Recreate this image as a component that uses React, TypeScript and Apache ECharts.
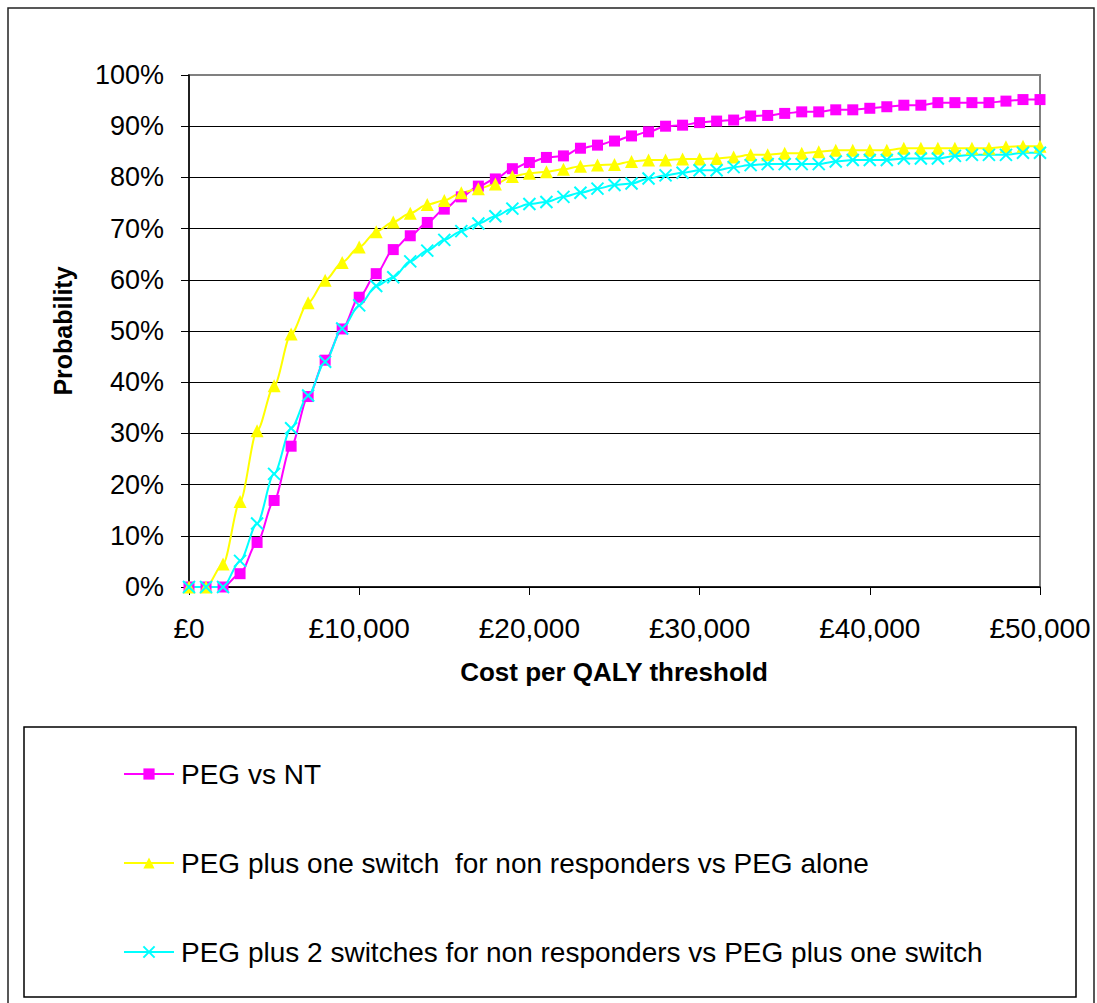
import React, { useEffect, useRef } from "react";
import * as echarts from "echarts";

const thresholds = [
  0, 1000, 2000, 3000, 4000, 5000, 6000, 7000, 8000, 9000, 10000,
  11000, 12000, 13000, 14000, 15000, 16000, 17000, 18000, 19000, 20000,
  21000, 22000, 23000, 24000, 25000, 26000, 27000, 28000, 29000, 30000,
  31000, 32000, 33000, 34000, 35000, 36000, 37000, 38000, 39000, 40000,
  41000, 42000, 43000, 44000, 45000, 46000, 47000, 48000, 49000, 50000,
];

const pegVsNt = [
  0, 0, 0, 2.6, 8.7, 16.9, 27.5, 37.2, 44.3, 50.4, 56.6,
  61.2, 65.9, 68.6, 71.2, 73.8, 76.2, 78.3, 79.7, 81.7, 82.9,
  83.9, 84.2, 85.7, 86.3, 87.1, 88.1, 88.9, 90.0, 90.2, 90.7,
  91.0, 91.2, 92.0, 92.1, 92.5, 92.8, 92.8, 93.2, 93.2, 93.5,
  93.8, 94.1, 94.1, 94.6, 94.6, 94.6, 94.6, 94.9, 95.2, 95.2,
];

const oneSwitch = [
  0, 0, 4.5, 16.7, 30.5, 39.3, 49.4, 55.5, 59.9, 63.4, 66.4,
  69.4, 71.3, 73.0, 74.7, 75.5, 77.0, 77.8, 78.7, 80.2, 80.8,
  81.1, 81.6, 82.2, 82.4, 82.5, 83.1, 83.4, 83.4, 83.6, 83.6,
  83.7, 84.0, 84.4, 84.4, 84.7, 84.7, 85.0, 85.3, 85.3, 85.3,
  85.3, 85.7, 85.7, 85.7, 85.7, 85.7, 85.7, 86.0, 86.1, 86.1,
];

const twoSwitches = [
  0, 0, 0, 5.1, 12.4, 22.1, 31.0, 37.4, 44.0, 50.5, 55.0,
  58.8, 60.5, 63.6, 65.7, 67.8, 69.5, 71.0, 72.4, 73.9, 74.8,
  75.2, 76.2, 77.0, 77.8, 78.5, 78.8, 79.8, 80.4, 80.9, 81.4,
  81.4, 82.0, 82.4, 82.6, 82.6, 82.6, 82.6, 83.1, 83.4, 83.4,
  83.4, 83.7, 83.7, 83.7, 84.2, 84.4, 84.4, 84.4, 84.8, 84.8,
];

const seriesNames = [
  "PEG vs NT",
  "PEG plus one switch  for non responders vs PEG alone",
  "PEG plus 2 switches for non responders vs PEG plus one switch",
];

const xTitle = "Cost per QALY threshold";
const yTitle = "Probability";

const FONT = 'Arial, "Liberation Sans", sans-serif';

function pairs(values: number[]) {
  return thresholds.map((t, i) => [t, values[i]]);
}

export default function App() {
  const ref = useRef<HTMLDivElement>(null);

  useEffect(() => {
    if (!ref.current) return;
    const chart = echarts.init(ref.current, null, { renderer: "svg" });
    const option: any = {
      animation: false,
      backgroundColor: "#ffffff",
      grid: {
        left: 189,
        top: 75,
        right: 57,
        bottom: 416,
        show: true,
        borderColor: "#808080",
        borderWidth: 2,
        backgroundColor: "transparent",
      },
      xAxis: {
        type: "value",
        min: 0,
        max: 50000,
        interval: 10000,
        axisLine: { show: true, onZero: false, lineStyle: { color: "#000", width: 1.5 } },
        axisTick: { show: true, inside: false, length: 8, lineStyle: { color: "#000", width: 1 } },
        axisLabel: {
          margin: 27,
          fontSize: 28,
          color: "#000",
          fontFamily: FONT,
          formatter: (v: number) => "£" + v.toLocaleString("en-GB"),
        },
        splitLine: { show: false },
      },
      yAxis: {
        type: "value",
        min: 0,
        max: 100,
        interval: 10,
        axisLine: { show: true, lineStyle: { color: "#000", width: 1.5 } },
        axisTick: { show: true, inside: false, length: 8, lineStyle: { color: "#000", width: 1 } },
        axisLabel: {
          margin: 25,
          fontSize: 27,
          color: "#000",
          fontFamily: FONT,
          formatter: "{value}%",
        },
        splitLine: { show: true, showMaxLine: false, lineStyle: { color: "#000", width: 1 } },
      },
      legend: {
        orient: "vertical",
        left: 118,
        top: 755,
        itemWidth: 50,
        itemHeight: 14,
        itemGap: 61,
        textStyle: { fontSize: 28, color: "#000", fontFamily: FONT, padding: [0, 0, 0, 2] },
        data: seriesNames,
      },
      graphic: [
        {
          type: "rect",
          shape: { x: 8, y: 8, width: 1086, height: 1000 },
          style: { fill: "none", stroke: "#222", lineWidth: 1.5 },
          silent: true,
        },
        {
          type: "rect",
          shape: { x: 24, y: 727, width: 1052, height: 270 },
          style: { fill: "none", stroke: "#000", lineWidth: 1.5 },
          silent: true,
        },
        {
          type: "text",
          x: 614,
          y: 672,
          style: {
            text: xTitle,
            fontSize: 26,
            fontWeight: "bold",
            fontFamily: FONT,
            fill: "#000",
            textAlign: "center",
            textVerticalAlign: "middle",
          },
        },
        {
          type: "text",
          x: 63,
          y: 331,
          rotation: Math.PI / 2,
          style: {
            text: yTitle,
            fontSize: 25,
            fontWeight: "bold",
            fontFamily: FONT,
            fill: "#000",
            textAlign: "center",
            textVerticalAlign: "middle",
          },
        },
      ],
      series: [
        {
          name: seriesNames[0],
          type: "line",
          data: pairs(pegVsNt),
          smooth: 0.3,
          smoothMonotone: "x",
          symbol: "rect",
          symbolSize: 11,
          lineStyle: { color: "#FF00FF", width: 2 },
          itemStyle: { color: "#FF00FF" },
        },
        {
          name: seriesNames[1],
          type: "line",
          data: pairs(oneSwitch),
          smooth: 0.3,
          smoothMonotone: "x",
          symbol: "triangle",
          symbolSize: 13,
          lineStyle: { color: "#FFFF00", width: 2 },
          itemStyle: { color: "#FFFF00" },
        },
        {
          name: seriesNames[2],
          type: "line",
          data: pairs(twoSwitches),
          smooth: 0.3,
          smoothMonotone: "x",
          symbol: "path://M0,0L10,10M10,0L0,10",
          symbolSize: 12,
          lineStyle: { color: "#00FFFF", width: 2 },
          itemStyle: { color: "#00FFFF", borderColor: "#00FFFF", borderWidth: 2 },
        },
      ],
    };
    chart.setOption(option);
    return () => chart.dispose();
  }, []);

  return (
    <div
      ref={ref}
      style={{ position: "fixed", left: 0, top: 0, width: 1097, height: 1003, background: "#fff" }}
    />
  );
}
